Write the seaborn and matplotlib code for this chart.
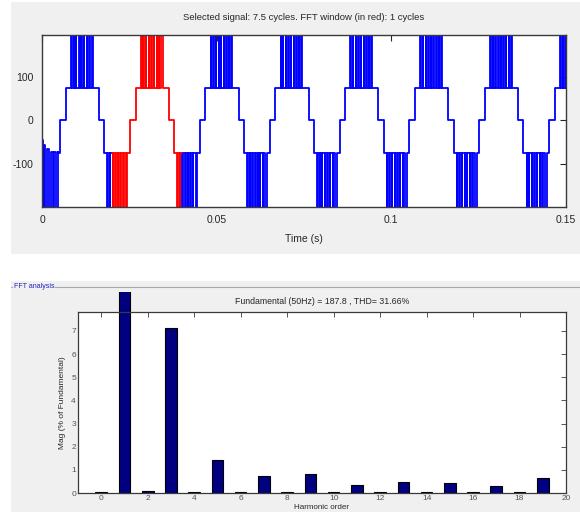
import numpy as np
import pandas as pd
import matplotlib
matplotlib.use("Agg")
import matplotlib.pyplot as plt
import seaborn as sns
from matplotlib.patches import Rectangle
from matplotlib.lines import Line2D
from matplotlib.transforms import Bbox, TransformedBbox

# ---------------- data ----------------
# Time signal (multilevel inverter output), one 50 Hz cycle
PERIOD = 0.02            # s
T_REF = 0.0060           # s, rising zero crossing of first full cycle
# staircase levels within a cycle (ms after T_REF) and value after each step
STAIR_MS = [-0.8, 0.8, 2.3, 8.5, 10.3, 11.8, 12.7, 18.5]
STAIR_V = [0, 75, 75, 75, 0, -75, -75, -75]
# PWM pulses in the positive / negative blocks (ms after T_REF)
POS_ON_MS = [2.30, 3.05, 3.80, 4.55, 5.30, 6.05, 6.80, 7.55, 8.20]
POS_OFF_MS = [2.50, 3.12, 3.87, 4.75, 5.37, 6.12, 6.95, 7.62, 8.50]
NEG_ON_MS = [12.70, 13.45, 14.20, 14.95, 15.70, 16.45, 17.20, 17.95]
NEG_OFF_MS = [12.90, 13.52, 14.27, 15.12, 15.77, 16.52, 17.35, 18.45]
PULSE_HIGH = 240
PULSE_LOW = -240
# start-up transient (first ms)
START_T = [0.0, 0.0003, 0.0006, 0.0010, 0.0014, 0.0019]
START_V = [-45, -240, -58, -240, -66, -240]
T_END = 0.15
WIN_START, WIN_END = 0.02, 0.04   # FFT window (red)

# FFT bars
HARMONICS = list(range(20))
MAG = [0.05, 100, 0.10, 7.15, 0.06, 1.44, 0.04, 0.72, 0.04, 0.84,
       0.04, 0.36, 0.04, 0.48, 0.04, 0.45, 0.04, 0.32, 0.04, 0.66]

TITLE_TOP = "Selected signal: 7.5 cycles. FFT window (in red): 1 cycles"
TITLE_BOT = "Fundamental (50Hz) = 187.8 , THD= 31.66%"

# ---------------- build step events ----------------
ev_t, ev_v = list(START_T), list(START_V)
tiled = []
for k in range(-1, 8):
    base = T_REF + k * PERIOD
    for tm, v in zip(STAIR_MS, STAIR_V):
        tiled.append((base + tm / 1000, v))
    for on, off in zip(POS_ON_MS, POS_OFF_MS):
        tiled.append((base + on / 1000 + 1e-7, PULSE_HIGH))
        tiled.append((base + off / 1000 - 1e-7, 75))
    for on, off in zip(NEG_ON_MS, NEG_OFF_MS):
        tiled.append((base + on / 1000 + 1e-7, PULSE_LOW))
        tiled.append((base + off / 1000 - 1e-7, -72 if k < 0 else -75))
tiled.sort()
for t, v in tiled:
    if START_T[-1] < t < T_END:
        ev_t.append(t)
        ev_v.append(v)
ev_t = np.array(ev_t)
ev_v = np.array(ev_v, dtype=float)


def value_at(t):
    i = np.searchsorted(ev_t, t, side="right") - 1
    return ev_v[max(i, 0)]


rows = []
bounds = [0.0, WIN_START, WIN_END, T_END]
for seg in range(3):
    a, b = bounds[seg], bounds[seg + 1]
    mask = (ev_t >= a) & (ev_t < b)
    ts = [a] + list(ev_t[mask]) + [b]
    vs = [value_at(a)] + list(ev_v[mask]) + [value_at(b) if seg < 2 else ev_v[mask][-1]]
    for t, v in zip(ts, vs):
        rows.append((t, v, seg, "win" if seg == 1 else "sig"))
df_sig = pd.DataFrame(rows, columns=["t", "v", "seg", "kind"])
df_fft = pd.DataFrame({"harm": HARMONICS, "mag": MAG})

# ---------------- figure ----------------
sns.set_theme(style="white")
plt.rcParams["font.family"] = ["Liberation Sans", "DejaVu Sans"]
plt.rcParams["axes.unicode_minus"] = False
W, H = 580, 512
fig = plt.figure(figsize=(W / 100, H / 100), dpi=100)
fig.patch.set_facecolor("white")

GRAY = "#f0f0f0"
fig.add_artist(Rectangle((11 / W, 1 - 254 / H), 1 - 11 / W, 252 / H,
                         transform=fig.transFigure, facecolor=GRAY, edgecolor="none", zorder=0))
fig.add_artist(Rectangle((11 / W, 0), 1 - 11 / W, 1 - 281 / H,
                         transform=fig.transFigure, facecolor=GRAY, edgecolor="none", zorder=0))
# FFT analysis panel border + label
fig.add_artist(Line2D([11 / W, 1], [1 - 287 / H, 1 - 287 / H], transform=fig.transFigure,
                      color="#a8a8a8", lw=0.8, zorder=1))
fig.text(14 / W, 1 - 287 / H, "FFT analysis", color="#2020c0", fontsize=5, va="center",
         ha="left", zorder=2, bbox=dict(facecolor=GRAY, edgecolor="none", pad=0.5))

TXT = "#262626"

# top axes
ax1 = fig.add_axes([42 / W, 1 - 207 / H, (566 - 42) / W, (207 - 35) / H])
sns.lineplot(data=df_sig, x="t", y="v", hue="kind", units="seg", estimator=None,
             sort=False, palette={"sig": "#0000ff", "win": "#ff0000"},
             drawstyle="steps-post", lw=1.3, legend=False, ax=ax1)
ax1.set_xlim(0, T_END)
ax1.set_ylim(-200, 197)
ax1.set_xticks([0, 0.05, 0.1, 0.15])
ax1.set_xticklabels(["0", "0.05", "0.1", "0.15"])
ax1.set_yticks([-100, 0, 100])
ax1.tick_params(direction="in", top=True, right=True, length=4, width=0.8,
                labelsize=7.5, colors=TXT, pad=6)
ax1.set_xlabel("Time (s)", fontsize=7.5, color=TXT, labelpad=6)
ax1.set_ylabel("")
ax1.set_title(TITLE_TOP, fontsize=6.8, color=TXT, pad=11)
for s in ax1.spines.values():
    s.set_color("#3a3a3a")
    s.set_linewidth(1.0)

# bottom axes
ax2 = fig.add_axes([78 / W, 1 - 493 / H, (566 - 78) / W, (493 - 312) / H])
sns.barplot(data=df_fft, x="harm", y="mag", native_scale=True, width=0.5,
            color="#000080", saturation=1, edgecolor="black", linewidth=0.8,
            errorbar=None, ax=ax2)
ax2.set_xlim(-1, 20)
ax2.set_ylim(0, 7.82)
ax2.set_xticks(list(range(0, 21, 2)))
ax2.set_xticklabels([str(v) for v in range(0, 21, 2)])
ax2.set_yticks(list(range(0, 8)))
ax2.tick_params(direction="in", top=True, right=True, length=3.5, width=0.7,
                labelsize=6, colors="#555555", pad=1.5)
ax2.set_xlabel("Harmonic order", fontsize=5.8, color=TXT, va="top")
ax2.xaxis.set_label_coords(0.5, -(504 - 493) / (493 - 312))
ax2.set_ylabel("Mag (% of Fundamental)", fontsize=6, color=TXT, labelpad=4)
ax2.set_title(TITLE_BOT, fontsize=6.3, color=TXT, pad=6)
for s in ax2.spines.values():
    s.set_color("#3a3a3a")
    s.set_linewidth(0.9)
# the fundamental bar runs out of the axes up to the panel border
clip = TransformedBbox(Bbox([[0, 0], [1, 1 - 291.5 / H]]), fig.transFigure)
for p in ax2.patches:
    if p.get_height() > 50:
        p.set_clip_path(None)
        p.set_clip_box(clip)

fig.savefig("out.png", dpi=100)
